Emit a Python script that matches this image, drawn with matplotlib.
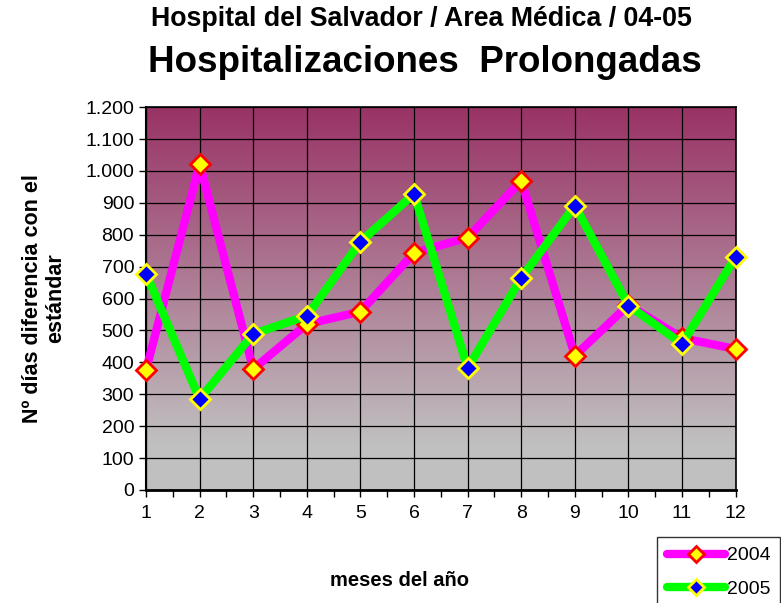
import numpy as np
import matplotlib
matplotlib.use("Agg")
import matplotlib.pyplot as plt
from matplotlib.colors import LinearSegmentedColormap
from matplotlib.ticker import FuncFormatter, MultipleLocator

# Data
meses = [1, 2, 3, 4, 5, 6, 7, 8, 9, 10, 11, 12]
dias_2004 = [376, 1022, 379, 520, 559, 743, 791, 969, 421, 580, 476, 442]
dias_2005 = [677, 285, 489, 546, 778, 928, 382, 665, 891, 578, 458, 731]

plt.rcParams['font.family'] = ['Liberation Sans', 'DejaVu Sans']

fig = plt.figure(figsize=(7.81, 6.03), dpi=100)
ax = fig.add_axes([0.187, 0.1874, 0.755, 0.635])

# gradient background (purple on top to grey at bottom)
cmap = LinearSegmentedColormap.from_list("bg", [(0, "#c0c0c0"), (0.12, "#c0c0c0"),
                                                (1, "#993366")])
grad = np.linspace(0, 1, 256).reshape(-1, 1)
ax.imshow(grad, aspect='auto', cmap=cmap, origin='lower',
          extent=[1, 12, 0, 1200], zorder=0)

ax.plot(meses, dias_2004, color='#ff00ff', lw=6, marker='D', ms=10,
        mfc='#ffff00', mec='#ff0000', mew=2, label='2004', zorder=3,
        solid_capstyle='round', clip_on=False)
ax.plot(meses, dias_2005, color='#00ff00', lw=6, marker='D', ms=10,
        mfc='#0000ff', mec='#ffff00', mew=2, label='2005', zorder=4,
        solid_capstyle='round', clip_on=False)

ax.set_xlim(1, 12)
ax.set_ylim(0, 1200)
ax.xaxis.set_major_locator(MultipleLocator(1))
ax.xaxis.set_minor_locator(MultipleLocator(0.5))
ax.yaxis.set_major_locator(MultipleLocator(100))
ax.yaxis.set_major_formatter(FuncFormatter(lambda v, p: f"{int(v):,}".replace(",", ".")))
ax.grid(True, which='major', color='black', lw=0.9, zorder=1)
ax.set_axisbelow(False)
for g in ax.get_xgridlines() + ax.get_ygridlines():
    g.set_zorder(1)

ax.tick_params(axis='both', which='both', direction='out', labelsize=14,
               length=5, width=1, color='black')
ax.tick_params(axis='x', pad=6)
for s in ax.spines.values():
    s.set_color('black')
    s.set_linewidth(1.2)
ax.spines['left'].set_linewidth(1.5)
ax.spines['bottom'].set_linewidth(2)

ax.set_ylabel("Nº días diferencia con el\nestándar", fontsize=15.5,
              fontweight='bold', labelpad=14, linespacing=1.1)

fig.text(400 / 781, 1 - 581 / 603, "meses del año", ha='center', va='center',
         fontsize=14.5, fontweight='bold')
fig.text(421 / 781, 1 - 19 / 603, "Hospital del Salvador / Area Médica / 04-05",
         ha='center', va='center', fontsize=19.3, fontweight='bold')
fig.text(425 / 781, 1 - 62 / 603, "Hospitalizaciones  Prolongadas",
         ha='center', va='center', fontsize=26.5, fontweight='bold')

leg = fig.legend(loc='upper left', bbox_to_anchor=(657 / 781, 1 - 537 / 603),
                 fontsize=14, frameon=True, fancybox=False, edgecolor='black',
                 handlelength=3.0, handletextpad=0.1, borderpad=0.5,
                 labelspacing=0.8, borderaxespad=0, markerscale=0.85)
leg.get_frame().set_linewidth(1)

fig.savefig("out.png", dpi=100)
